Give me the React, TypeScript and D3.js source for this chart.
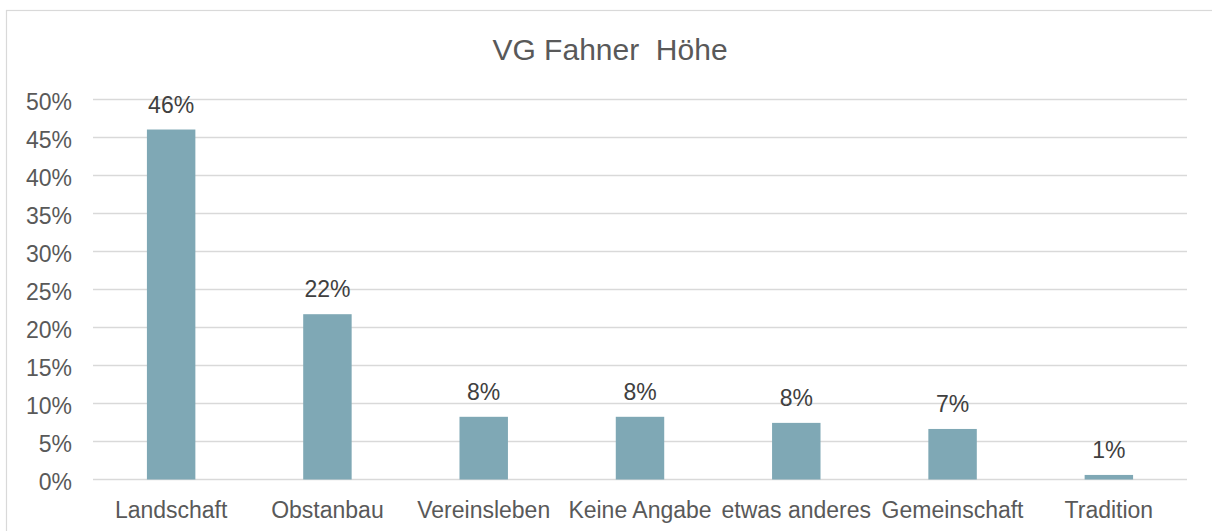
import React from "react";
import * as d3 from "d3";

const categories = ["Landschaft", "Obstanbau", "Vereinsleben", "Keine Angabe", "etwas anderes", "Gemeinschaft", "Tradition"];
const values = [0.4605, 0.2175, 0.0825, 0.0825, 0.0745, 0.0665, 0.006];
const valueLabels = ["46%", "22%", "8%", "8%", "8%", "7%", "1%"];
const yTicks = [0, 0.05, 0.1, 0.15, 0.2, 0.25, 0.3, 0.35, 0.4, 0.45, 0.5];
const title = "VG Fahner  Höhe";

const W = 1212;
const H = 531;
const FONT = "'Liberation Sans', Arial, sans-serif";
const TEXT = "#595959";
const GRID = "#D9D9D9";
const BAR = "#7FA8B5";

export default function App() {
  const x = d3.scaleBand<string>().domain(categories).range([93, 1187]).paddingInner(0.69).paddingOuter(0.345);
  const y = d3.scaleLinear().domain([0, 0.5]).range([479.5, 99.5]);
  const fmt = d3.format(".0%");

  return (
    <svg width={W} height={H} style={{ position: "absolute", left: 0, top: 0, background: "#fff" }} fontFamily={FONT}>
      <rect x={0} y={0} width={W} height={H} fill="#fff" />
      <rect x={6.5} y={10.5} width={W + 10} height={H + 10} fill="none" stroke={GRID} strokeWidth={1.2} />
      <text x={610} y={60} textAnchor="middle" fontSize={30} fill={TEXT} style={{ whiteSpace: "pre" }}>
        {title}
      </text>
      {yTicks.map((t) => (
        <g key={t}>
          <line x1={93} x2={1187} y1={y(t)} y2={y(t)} stroke={GRID} strokeWidth={1.3} />
          <text x={72} y={y(t) + 10} textAnchor="end" fontSize={23} fill={TEXT}>
            {fmt(t)}
          </text>
        </g>
      ))}
      {categories.map((c, i) => (
        <g key={c}>
          <rect x={x(c)} y={y(values[i])} width={x.bandwidth()} height={y(0) - y(values[i])} fill={BAR} />
          <text x={(x(c) as number) + x.bandwidth() / 2} y={y(values[i]) - 17} textAnchor="middle" fontSize={23} fill="#404040">
            {valueLabels[i]}
          </text>
          <text x={(x(c) as number) + x.bandwidth() / 2} y={517.5} textAnchor="middle" fontSize={23} fill={TEXT}>
            {c}
          </text>
        </g>
      ))}
    </svg>
  );
}
